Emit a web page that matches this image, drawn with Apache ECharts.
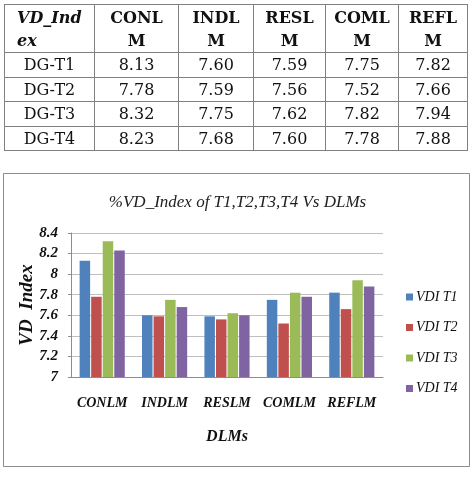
<!DOCTYPE html>
<html>
<head>
<meta charset="utf-8">
<script src="https://cdn.jsdelivr.net/npm/echarts@6/dist/echarts.min.js"></script>
<style>
  html, body { margin: 0; padding: 0; background: #fff; }
  #chart { position: absolute; left: 0; top: 0; width: 475px; height: 483px; }
  #tbl {
    position: absolute; left: 4px; top: 4px; z-index: 2;
    border-collapse: collapse; table-layout: fixed;
    font-family: "DejaVu Serif", serif; font-size: 16px; color: #111;
  }
  #tbl td { border: 1px solid #808080; padding: 0; text-align: center; }
  #tbl tr.h td { height: 47px; line-height: 23px; font-weight: bold; }
  #tbl tr.h td.first { font-style: italic; text-align: left; padding-left: 12px; }
  #tbl tr.d td { height: 23.5px; line-height: 23px; }
</style>
</head>
<body>
<div id="chart"></div>
<table id="tbl"></table>
<script>
// ---- data ----
const tableCorner = 'VD_Index';
const categories = ['CONLM', 'INDLM', 'RESLM', 'COMLM', 'REFLM'];
const rowNames = ['DG-T1', 'DG-T2', 'DG-T3', 'DG-T4'];
const seriesNames = ['VDI T1', 'VDI T2', 'VDI T3', 'VDI T4'];
const t1 = [8.13, 7.60, 7.59, 7.75, 7.82];
const t2 = [7.78, 7.59, 7.56, 7.52, 7.66];
const t3 = [8.32, 7.75, 7.62, 7.82, 7.94];
const t4 = [8.23, 7.68, 7.60, 7.78, 7.88];
const yTicks = [7, 7.2, 7.4, 7.6, 7.8, 8, 8.2, 8.4];
const titleText = '%VD_Index of T1,T2,T3,T4 Vs DLMs';
const xName = 'DLMs';
const yName = 'VD  Index';

const allSeries = [t1, t2, t3, t4];
const colors = ['#4F81BD', '#C0504D', '#9BBB59', '#8064A2'];
const colWidths = [90, 84, 75, 72, 73, 69];

// ---- table ----
const tbl = document.getElementById('tbl');
let html = '<colgroup>' + colWidths.map(w => '<col style="width:' + w + 'px">').join('') + '</colgroup>';
html += '<tr class="h"><td class="first">' + tableCorner.slice(0, 6) + '<br>' + tableCorner.slice(6) + '</td>';
categories.forEach(c => { html += '<td>' + c.slice(0, 4) + '<br>' + c.slice(4) + '</td>'; });
html += '</tr>';
rowNames.forEach((r, i) => {
  html += '<tr class="d"><td>' + r + '</td>';
  allSeries[i].forEach(v => { html += '<td>' + v.toFixed(2) + '</td>'; });
  html += '</tr>';
});
tbl.innerHTML = html;

// ---- chart ----
const serif = '"Liberation Serif", "Times New Roman", serif';
const chart = echarts.init(document.getElementById('chart'), null, { renderer: 'canvas' });
chart.setOption({
  animation: false,
  backgroundColor: '#fff',
  color: colors,
  graphic: [{
    type: 'rect',
    shape: { x: 3.5, y: 173.5, width: 466, height: 293 },
    style: { fill: 'none', stroke: '#8c8c8c', lineWidth: 1 },
    z: -1
  }],
  title: {
    text: titleText,
    left: 'center',
    top: 189,
    textStyle: { fontFamily: serif, fontStyle: 'italic', fontWeight: 'normal', fontSize: 17, color: '#222' }
  },
  legend: {
    orient: 'vertical',
    left: 401,
    top: 285,
    itemWidth: 7,
    itemHeight: 7,
    itemGap: 16.5,
    icon: 'rect',
    data: seriesNames,
    textStyle: { fontFamily: serif, fontStyle: 'italic', fontSize: 14, color: '#111', padding: [0, 0, 0, -2] }
  },
  grid: { left: 71, right: 92, top: 233, bottom: 106 },
  xAxis: {
    type: 'category',
    data: categories,
    name: xName,
    nameLocation: 'middle',
    nameGap: 52,
    nameMoveOverlap: false,
    nameTextStyle: { fontFamily: serif, fontStyle: 'italic', fontWeight: 'bold', fontSize: 16, color: '#111' },
    axisLine: { lineStyle: { color: '#8c8c8c' } },
    axisTick: { show: false },
    axisLabel: { interval: 0, margin: 19, fontFamily: serif, fontStyle: 'italic', fontWeight: 'bold', fontSize: 14, color: '#111' }
  },
  yAxis: {
    type: 'value',
    min: yTicks[0],
    max: yTicks[yTicks.length - 1],
    interval: 0.2,
    name: yName,
    nameLocation: 'middle',
    nameRotate: 90,
    nameGap: 34,
    nameMoveOverlap: false,
    nameTextStyle: { fontFamily: serif, fontStyle: 'italic', fontWeight: 'bold', fontSize: 19, color: '#111' },
    axisLine: { show: true, lineStyle: { color: '#8c8c8c' } },
    axisTick: { show: true, length: 3, lineStyle: { color: '#8c8c8c' } },
    splitLine: { lineStyle: { color: '#bfbfbf' } },
    axisLabel: {
      margin: 13,
      fontFamily: serif, fontStyle: 'italic', fontWeight: 'bold', fontSize: 15, color: '#111',
      formatter: v => String(Math.round(v * 10) / 10)
    }
  },
  series: allSeries.map((d, i) => ({
    type: 'bar',
    name: seriesNames[i],
    data: d,
    barWidth: 10.5,
    barGap: '10%'
  }))
});
</script>
</body>
</html>
